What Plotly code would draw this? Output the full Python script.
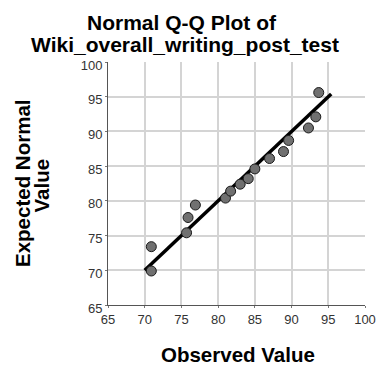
import plotly.graph_objects as go

# Observed scores and their expected normal quantiles
observed = [70.9, 70.9, 75.7, 75.9, 76.9, 81.0, 81.7, 83.0, 84.1, 85.0,
            87.0, 88.9, 89.6, 92.3, 93.3, 93.7]
expected = [69.9, 73.4, 75.4, 77.6, 79.4, 80.4, 81.4, 82.4, 83.2, 84.6,
            86.1, 87.1, 88.7, 90.5, 92.1, 95.6]

# Reference line endpoints (y = x)
line_x = [70.0, 95.4]
line_y = [70.0, 95.4]

ticks = [65, 70, 75, 80, 85, 90, 95, 100]

W, H = 379, 367
L, R, T, B = 108, 14, 62, 62
PW, PH = W - L - R, H - T - B


def px_x(px):
    return (px - L) / PW


def px_y(py):
    return (H - B - py) / PH


fig = go.Figure()
fig.add_trace(go.Scatter(
    x=line_x, y=line_y, mode="lines",
    line=dict(color="black", width=3.5), hoverinfo="skip", showlegend=False,
))
fig.add_trace(go.Scatter(
    x=observed, y=expected, mode="markers",
    marker=dict(size=10, color="#707070", line=dict(color="#1a1a1a", width=1)),
    showlegend=False,
))

axis_common = dict(
    range=[65, 100], tickvals=ticks, ticktext=[str(t) for t in ticks],
    showgrid=True, gridcolor="#d4d4d4", gridwidth=1.5, automargin=False,
    zeroline=False, showline=True, linecolor="#555555", linewidth=1,
    ticks="outside", ticklen=2, tickcolor="#777777",
    tickfont=dict(family="Liberation Sans, Arial", size=13, color="#333333"),
)
fig.update_xaxes(**axis_common)
# y tick labels sit slightly below their gridlines
fig.update_yaxes(**axis_common, ticklabelshift=3)

title_font = dict(family="Liberation Sans, Arial", size=21, color="black")
label_font = dict(family="Liberation Sans, Arial", size=20.5, color="black")

annotations = [
    dict(text="<b>Normal Q-Q Plot of</b>", x=px_x(182), y=px_y(22),
         font=title_font, xanchor="center", yanchor="middle"),
    dict(text="<b>Wiki_overall_writing_post_test</b>", x=px_x(185), y=px_y(44.8),
         font=title_font, xanchor="center", yanchor="middle"),
    dict(text="<b>Observed Value</b>", x=px_x(237.5), y=px_y(354),
         font=label_font, xanchor="center", yanchor="middle"),
    dict(text="<b>Expected Normal</b>", x=px_x(22.5), y=px_y(183.5),
         font=label_font, textangle=-90, xanchor="center", yanchor="middle"),
    dict(text="<b>Value</b>", x=px_x(40.5), y=px_y(186),
         font=label_font, textangle=-90, xanchor="center", yanchor="middle"),
]
for a in annotations:
    a.update(xref="paper", yref="paper", showarrow=False)

fig.update_layout(
    width=W, height=H,
    margin=dict(l=L, r=R, t=T, b=B),
    plot_bgcolor="white", paper_bgcolor="white",
    font=dict(family="Liberation Sans, Arial", color="black"),
    annotations=annotations,
)

fig.write_html("out.html")
